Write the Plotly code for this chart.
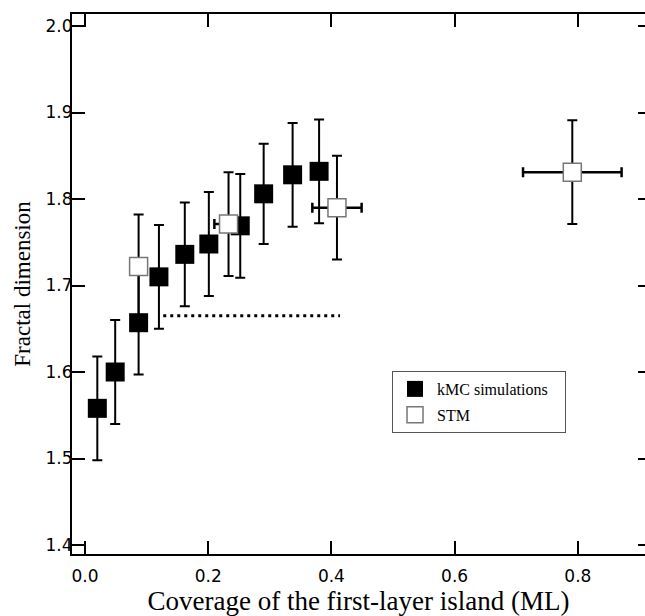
import plotly.graph_objects as go

# kMC simulations (filled squares)
kmc_x = [0.020, 0.049, 0.087, 0.120, 0.162, 0.201, 0.252, 0.290, 0.337, 0.380]
kmc_y = [1.558, 1.600, 1.657, 1.710, 1.736, 1.748, 1.769, 1.806, 1.828, 1.832]
kmc_yerr = [0.060, 0.060, 0.060, 0.060, 0.060, 0.060, 0.060, 0.058, 0.060, 0.060]

# STM (open squares)
stm_x = [0.087, 0.233, 0.409, 0.791]
stm_y = [1.722, 1.771, 1.790, 1.831]
stm_xerr = [0.0, 0.023, 0.040, 0.080]
stm_yerr = [0.060, 0.060, 0.060, 0.060]

# dotted reference level
ref_x = [0.127, 0.414]
ref_y = [1.665, 1.665]

x_ticks = [0.0, 0.2, 0.4, 0.6, 0.8]
y_ticks = [1.4, 1.5, 1.6, 1.7, 1.8, 1.9, 2.0]
x_range = [-0.0211, 0.909]
y_range = [1.3896, 2.0139]

fig = go.Figure()

fig.add_trace(go.Scatter(
    x=ref_x, y=ref_y, mode="lines", yaxis="y2",
    line=dict(color="black", width=3, dash="3px,4px"),
    showlegend=False, hoverinfo="skip"))

fig.add_trace(go.Scatter(
    x=kmc_x, y=kmc_y, mode="markers", name="kMC simulations\u00a0\u00a0\u00a0",
    legendgroup="kmc",
    marker=dict(symbol="square", size=19, color="black",
                line=dict(color="black", width=0)),
    error_y=dict(type="data", array=kmc_yerr, color="black",
                 thickness=2, width=5)))

fig.add_trace(go.Scatter(
    x=stm_x, y=stm_y, mode="markers", name="STM",
    legendgroup="stm",
    marker=dict(symbol="square", size=18, color="white",
                line=dict(color="#777777", width=1.5)),
    error_y=dict(type="data", array=stm_yerr, color="black",
                 thickness=2, width=5),
    error_x=dict(type="data", array=stm_xerr, color="black",
                 thickness=2.5, width=5)))

tickfont = dict(family="DejaVu Sans", size=17, color="black")

fig.update_layout(
    width=645, height=616,
    margin=dict(l=72, r=0, t=14, b=62),
    paper_bgcolor="white", plot_bgcolor="white",
    xaxis=dict(range=x_range, tickvals=x_ticks, tickformat=".1f",
               ticks="inside", ticklen=13, tickwidth=2, tickcolor="black",
               showline=True, linewidth=2, linecolor="black", mirror="ticks",
               showgrid=False, zeroline=False, tickfont=tickfont,
               ticklabelstandoff=6, automargin=False,
               title=dict(text="Coverage of the first-layer island (ML)",
                          font=dict(family="Liberation Serif", size=27, color="black"),
                          standoff=6)),
    yaxis=dict(range=y_range, tickvals=y_ticks, tickformat=".1f",
               ticks="inside", ticklen=13, tickwidth=2, tickcolor="black",
               showline=True, linewidth=2, linecolor="black",
               showgrid=False, zeroline=False, tickfont=tickfont,
               ticklabelstandoff=-6, automargin=False,
               title=dict(text="Fractal dimension",
                          font=dict(family="Liberation Serif", size=23, color="black"),
                          standoff=9)),
    yaxis2=dict(range=y_range, tickvals=y_ticks, overlaying="y", side="right",
                ticks="inside", ticklen=7, tickwidth=2, tickcolor="black",
                showline=False, showgrid=False, zeroline=False,
                showticklabels=False, automargin=False),
    legend=dict(x=0.5585, y=0.3389, xanchor="left", yanchor="top",
                bgcolor="white", bordercolor="#555555", borderwidth=1,
                tracegroupgap=2, itemwidth=34,
                font=dict(family="Liberation Serif", size=16, color="black")),
)

fig.write_html(
    "out.html",
    config={"displayModeBar": False},
    post_script="document.body.style.margin='0';document.body.style.overflow='hidden';",
)
